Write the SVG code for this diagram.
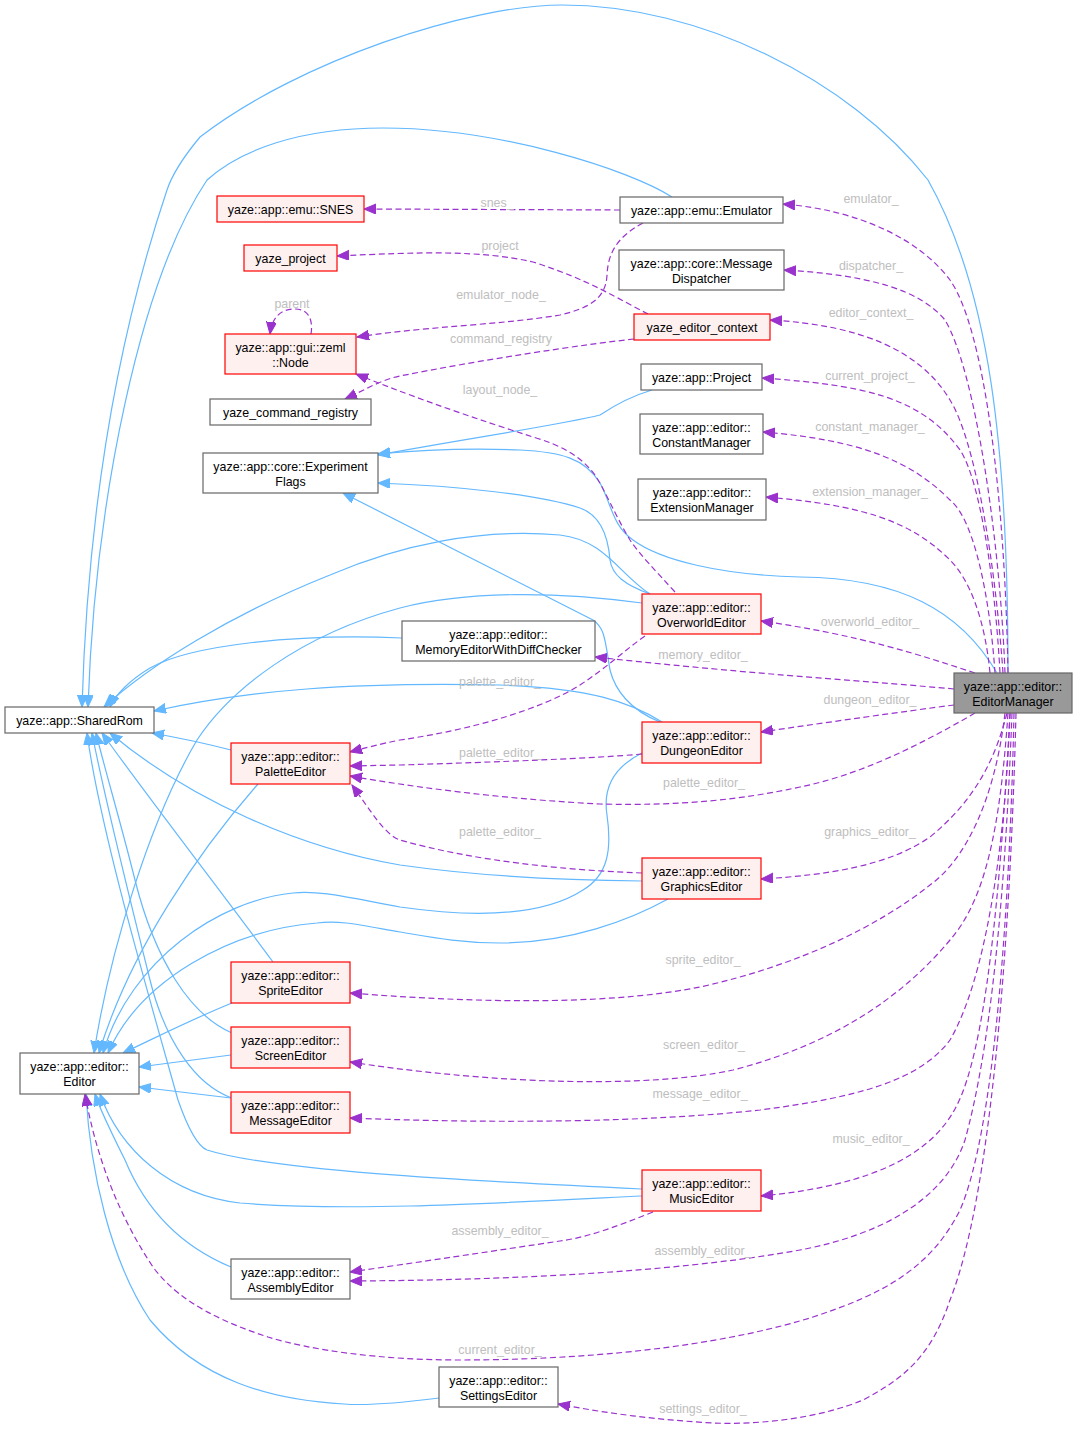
<svg xmlns="http://www.w3.org/2000/svg" width="1078" height="1429" viewBox="0 0 1078 1429">
<style>
text{font-family:"Liberation Sans",Arial,Helvetica,sans-serif;font-size:12.4px;text-anchor:middle;fill:#000}
.g rect{fill:#fff;stroke:#666;stroke-width:1.2}
.r rect{fill:#fff0f0;stroke:#f00;stroke-width:1.2}
.m rect{fill:#999;stroke:#666;stroke-width:1.2}
.e{fill:none;stroke:#63b8ff;stroke-width:1.2;marker-end:url(#ab)}
.d{fill:none;stroke:#9a32cd;stroke-width:1.2;stroke-dasharray:6,3.5;marker-end:url(#ap)}
.l{fill:#bebebe}
</style>
<defs>
<marker id="ab" markerUnits="userSpaceOnUse" markerWidth="14" markerHeight="12" refX="12" refY="5" orient="auto"><path d="M0,0 L12,5 L0,10 z" fill="#63b8ff" stroke="#63b8ff"/></marker>
<marker id="ap" markerUnits="userSpaceOnUse" markerWidth="14" markerHeight="12" refX="12" refY="5" orient="auto"><path d="M0,0 L12,5 L0,10 z" fill="#9a32cd" stroke="#9a32cd"/></marker>
</defs>
<rect width="1078" height="1429" fill="#fff"/>
<g id="edges">
<!-- inheritance -->
<path class="e" d="M1008,673 C1008,450 990,290 928,180 C850,80 700,5 562,5 C470,5 300,60 200,137 C185,155 172,175 167,190 C120,330 88,500 82,707"/>
<path class="e" d="M672,197 C630,170 500,128 383,128 C300,128 240,150 207,180 C140,280 95,500 88,707"/>
<path class="e" d="M650,594 C620,575 605,540 560,535 C480,528 400,545 330,575 C230,615 150,665 104,707"/>
<path class="e" d="M402,638 C300,633 190,645 150,668 C130,680 115,695 110,707"/>
<path class="e" d="M662,722 C630,702 590,688 500,685 C350,682 250,690 154,711"/>
<path class="e" d="M231,750 C200,742 180,738 152,733"/>
<path class="e" d="M642,881 C540,880 470,875 400,865 C300,848 190,800 110,733"/>
<path class="e" d="M273,962 C220,890 150,800 102,733"/>
<path class="e" d="M232,1033 C190,1015 155,960 135,880 C120,820 105,770 96,733"/>
<path class="e" d="M232,1098 C195,1085 165,1040 150,980 C130,900 105,800 92,733"/>
<path class="e" d="M642,1189 C450,1180 270,1170 207,1150 C195,1145 185,1120 178,1100 C150,1000 100,830 87,733"/>
<path class="e" d="M642,603 C560,592 470,590 400,608 C300,635 230,690 197,740 C150,820 110,950 94,1053"/>
<path class="e" d="M258,784 C200,850 130,950 99,1053"/>
<path class="e" d="M642,753 C612,768 603,790 607,815 C612,850 608,875 583,890 C540,918 470,917 400,907 C350,898 320,890 293,893 C220,900 130,960 103,1053"/>
<path class="e" d="M668,899 C630,920 570,943 500,943 C460,943 430,937 400,932 C360,925 340,920 317,923 C230,930 140,980 108,1053"/>
<path class="e" d="M232,1003 C190,1020 155,1038 123,1053"/>
<path class="e" d="M231,1055 L139,1067"/>
<path class="e" d="M231,1098 L139,1087"/>
<path class="e" d="M642,1196 C500,1203 350,1212 240,1203 C170,1195 120,1150 100,1094"/>
<path class="e" d="M231,1267 C190,1250 150,1220 125,1160 C110,1130 100,1110 95,1094"/>
<path class="e" d="M439,1398 C400,1403 370,1406 344,1404 C270,1400 200,1380 150,1320 C110,1260 90,1170 86,1094"/>
<path class="e" d="M652,390 C635,395 615,405 600,415 C560,425 470,438 378,455"/>
<path class="e" d="M997,673 C960,610 900,578 800,577 C720,575 660,560 633,540 C612,525 612,505 600,483 C585,458 560,452 520,450 C470,448 420,450 378,454"/>
<path class="e" d="M650,594 C625,585 612,575 610,560 C608,535 600,515 580,508 C540,495 460,486 378,483"/>
<path class="e" d="M660,722 C630,710 615,690 610,670 C605,640 605,628 593,620 L343,493"/>
<!-- usage -->
<path class="d" d="M620,210 L364,209"/>
<path class="d" d="M648,314 C620,300 590,280 533,262 C480,250 420,252 337,256"/>
<path class="d" d="M643,223 C615,238 608,255 607,275 C606,298 590,308 560,315 C500,325 430,326 357,337"/>
<path class="d" d="M634,339 C580,345 480,360 400,376 C380,380 365,390 345,399"/>
<path class="d" d="M675,592 C655,570 640,555 630,540 C615,515 605,490 595,475 C580,455 560,445 533,437 C480,420 420,400 356,374"/>
<path class="d" d="M311,334 C313,322 310,309 295,309 C280,309 272,318 270,334"/>
<path class="d" d="M645,636 C625,650 610,665 580,685 C540,710 470,730 400,740 C380,744 365,748 350,752"/>
<path class="d" d="M642,754 C600,758 500,762 400,765 L350,766"/>
<path class="d" d="M975,713 C920,745 860,775 800,787 C740,800 680,806 600,804 C520,800 430,790 350,776"/>
<path class="d" d="M642,873 C560,870 470,860 400,840 C385,835 370,810 352,785"/>
<path class="d" d="M1008,673 C1005,500 985,330 950,280 C920,240 860,210 783,204"/>
<path class="d" d="M1005,673 C1000,540 975,370 945,320 C920,290 870,275 784,270"/>
<path class="d" d="M1003,673 C995,560 975,440 950,400 C920,350 860,325 770,320"/>
<path class="d" d="M1000,673 C995,580 980,480 960,450 C920,395 860,385 762,378"/>
<path class="d" d="M995,673 C990,600 975,520 950,500 C910,460 860,440 763,432"/>
<path class="d" d="M990,673 C985,620 970,580 950,560 C910,520 860,505 766,497"/>
<path class="d" d="M975,673 C920,655 860,635 761,621"/>
<path class="d" d="M954,689 C880,682 760,675 595,657"/>
<path class="d" d="M954,705 C900,712 830,722 761,732"/>
<path class="d" d="M1007,713 C995,760 975,800 930,837 C890,865 830,875 761,879"/>
<path class="d" d="M1005,713 C995,800 965,860 930,885 C880,925 800,965 700,987 C620,1003 500,1005 350,993"/>
<path class="d" d="M1008,713 C1000,830 985,900 950,940 C900,1000 830,1045 733,1070 C650,1088 500,1085 350,1062"/>
<path class="d" d="M1010,713 C1005,850 985,980 950,1040 C920,1080 860,1097 760,1110 C650,1122 500,1124 350,1118"/>
<path class="d" d="M1010,713 C1000,900 985,1050 957,1105 C935,1150 880,1185 761,1196"/>
<path class="d" d="M1012,713 C1005,900 990,1050 965,1140 C945,1200 880,1235 800,1250 C700,1268 550,1280 350,1281"/>
<path class="d" d="M653,1212 C620,1225 590,1237 560,1241 C500,1250 420,1262 350,1272"/>
<path class="d" d="M1014,713 C1010,900 995,1130 960,1210 C930,1270 880,1295 813,1317 C740,1340 620,1360 459,1360 C380,1360 310,1350 268,1337 C200,1315 170,1290 153,1267 C115,1210 95,1150 85,1094"/>
<path class="d" d="M1016,713 C1010,950 990,1200 950,1300 C930,1360 900,1380 863,1400 C820,1418 760,1425 713,1423 C660,1420 610,1414 558,1404"/>
<!-- labels -->
<text class="l" x="497" y="207">snes_</text>
<text class="l" x="500" y="250">project</text>
<text class="l" x="501" y="299">emulator_node_</text>
<text class="l" x="501" y="343">command_registry</text>
<text class="l" x="500" y="394">layout_node_</text>
<text class="l" x="292" y="308">parent</text>
<text class="l" x="871" y="203">emulator_</text>
<text class="l" x="871" y="270">dispatcher_</text>
<text class="l" x="871" y="317">editor_context_</text>
<text class="l" x="870" y="380">current_project_</text>
<text class="l" x="870" y="431">constant_manager_</text>
<text class="l" x="870" y="496">extension_manager_</text>
<text class="l" x="870" y="626">overworld_editor_</text>
<text class="l" x="703" y="659">memory_editor_</text>
<text class="l" x="870" y="704">dungeon_editor_</text>
<text class="l" x="500" y="686">palette_editor_</text>
<text class="l" x="500" y="757">palette_editor_</text>
<text class="l" x="704" y="787">palette_editor_</text>
<text class="l" x="500" y="836">palette_editor_</text>
<text class="l" x="870" y="836">graphics_editor_</text>
<text class="l" x="703" y="964">sprite_editor_</text>
<text class="l" x="704" y="1049">screen_editor_</text>
<text class="l" x="700" y="1098">message_editor_</text>
<text class="l" x="871" y="1143">music_editor_</text>
<text class="l" x="500" y="1235">assembly_editor_</text>
<text class="l" x="703" y="1255">assembly_editor_</text>
<text class="l" x="500" y="1354">current_editor_</text>
<text class="l" x="703" y="1413">settings_editor_</text>
</g>
<g id="EditorManager" class="m"><rect x="954" y="673" width="118" height="40"/><text x="1013" y="691">yaze::app::editor::</text><text x="1013" y="706">EditorManager</text></g>
<g id="SharedRom" class="g"><rect x="5" y="707" width="149" height="26"/><text x="79.5" y="724.5">yaze::app::SharedRom</text></g>
<g id="Editor" class="g"><rect x="20" y="1053" width="119" height="41"/><text x="79.5" y="1071">yaze::app::editor::</text><text x="79.5" y="1086">Editor</text></g>
<g id="ExperimentFlags" class="g"><rect x="203" y="453" width="175" height="40"/><text x="290.5" y="471">yaze::app::core::Experiment</text><text x="290.5" y="486">Flags</text></g>
<g id="SNES" class="r"><rect x="217" y="196" width="147" height="26"/><text x="290.5" y="213.5">yaze::app::emu::SNES</text></g>
<g id="yaze_project" class="r"><rect x="244" y="245" width="93" height="26"/><text x="290.5" y="262.5">yaze_project</text></g>
<g id="Node" class="r"><rect x="225" y="334" width="131" height="40"/><text x="290.5" y="352">yaze::app::gui::zeml</text><text x="290.5" y="367">::Node</text></g>
<g id="yaze_command_registry" class="g"><rect x="210" y="399" width="161" height="26"/><text x="290.5" y="416.5">yaze_command_registry</text></g>
<g id="Emulator" class="g"><rect x="620" y="197" width="163" height="26"/><text x="701.5" y="214.5">yaze::app::emu::Emulator</text></g>
<g id="MessageDispatcher" class="g"><rect x="619" y="250" width="165" height="40"/><text x="701.5" y="268">yaze::app::core::Message</text><text x="701.5" y="283">Dispatcher</text></g>
<g id="yaze_editor_context" class="r"><rect x="634" y="314" width="136" height="26"/><text x="702" y="331.5">yaze_editor_context</text></g>
<g id="Project" class="g"><rect x="641" y="364" width="121" height="26"/><text x="701.5" y="381.5">yaze::app::Project</text></g>
<g id="ConstantManager" class="g"><rect x="640" y="414" width="123" height="40"/><text x="701.5" y="432">yaze::app::editor::</text><text x="701.5" y="447">ConstantManager</text></g>
<g id="ExtensionManager" class="g"><rect x="638" y="479" width="128" height="41"/><text x="702" y="497">yaze::app::editor::</text><text x="702" y="512">ExtensionManager</text></g>
<g id="OverworldEditor" class="r"><rect x="642" y="594" width="119" height="40"/><text x="701.5" y="612">yaze::app::editor::</text><text x="701.5" y="627">OverworldEditor</text></g>
<g id="MemoryEditorWithDiffChecker" class="g"><rect x="402" y="621" width="193" height="40"/><text x="498.5" y="639">yaze::app::editor::</text><text x="498.5" y="654">MemoryEditorWithDiffChecker</text></g>
<g id="DungeonEditor" class="r"><rect x="642" y="722" width="119" height="41"/><text x="701.5" y="740">yaze::app::editor::</text><text x="701.5" y="755">DungeonEditor</text></g>
<g id="PaletteEditor" class="r"><rect x="231" y="743" width="119" height="41"/><text x="290.5" y="761">yaze::app::editor::</text><text x="290.5" y="776">PaletteEditor</text></g>
<g id="GraphicsEditor" class="r"><rect x="642" y="858" width="119" height="41"/><text x="701.5" y="876">yaze::app::editor::</text><text x="701.5" y="891">GraphicsEditor</text></g>
<g id="SpriteEditor" class="r"><rect x="231" y="962" width="119" height="41"/><text x="290.5" y="980">yaze::app::editor::</text><text x="290.5" y="995">SpriteEditor</text></g>
<g id="ScreenEditor" class="r"><rect x="231" y="1027" width="119" height="41"/><text x="290.5" y="1045">yaze::app::editor::</text><text x="290.5" y="1060">ScreenEditor</text></g>
<g id="MessageEditor" class="r"><rect x="231" y="1092" width="119" height="41"/><text x="290.5" y="1110">yaze::app::editor::</text><text x="290.5" y="1125">MessageEditor</text></g>
<g id="MusicEditor" class="r"><rect x="642" y="1170" width="119" height="41"/><text x="701.5" y="1188">yaze::app::editor::</text><text x="701.5" y="1203">MusicEditor</text></g>
<g id="AssemblyEditor" class="g"><rect x="231" y="1259" width="119" height="40"/><text x="290.5" y="1277">yaze::app::editor::</text><text x="290.5" y="1292">AssemblyEditor</text></g>
<g id="SettingsEditor" class="g"><rect x="439" y="1367" width="119" height="40"/><text x="498.5" y="1385">yaze::app::editor::</text><text x="498.5" y="1400">SettingsEditor</text></g>
</svg>
